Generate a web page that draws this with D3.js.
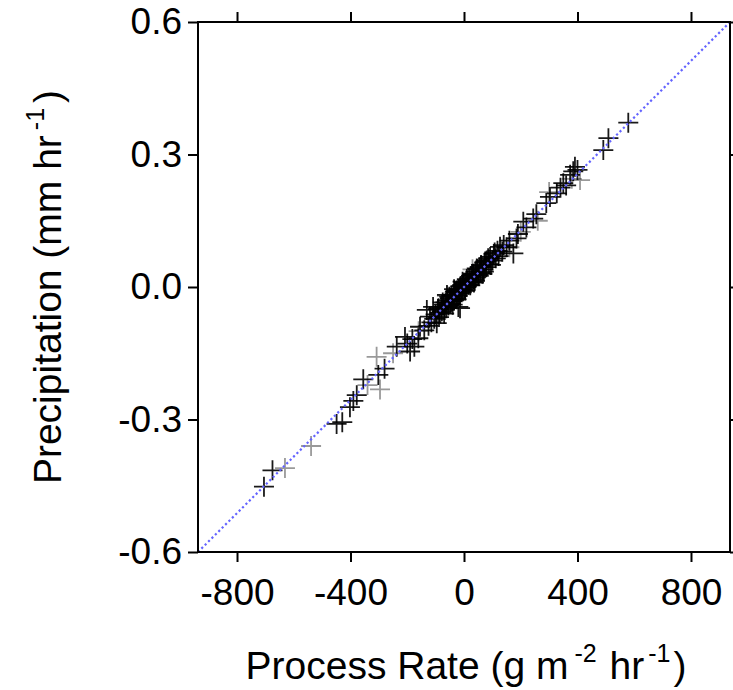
<!DOCTYPE html>
<html>
<head>
<meta charset="utf-8">
<script src="https://cdn.jsdelivr.net/npm/d3@7"></script>
<style>
  html, body { margin: 0; padding: 0; background: #fff; }
  svg { display: block; }
  text { font-family: "Liberation Sans", Arial, sans-serif; fill: #000; }
</style>
</head>
<body>
<svg id="chart" width="733" height="690"></svg>
<script>
// ---- data ----
const xTicks = [-800, -400, 0, 400, 800];
const yTicks = [-0.6, -0.3, 0.0, 0.3, 0.6];
const xTickLabels = ["-800", "-400", "0", "400", "800"];
const yTickLabels = ["-0.6", "-0.3", "0.0", "0.3", "0.6"];
const xDomain = [-937.5, 937.5];
const yDomain = [-0.6, 0.6];
const oneToOne = [[-937.5, -0.6], [937.5, 0.6]];

// black markers: process rate (g m-2 hr-1)
const blackRate = [
  -705, -675, -449, -429, -402, -390, -378, -355, -302, -280,
  -237, -208, -200, -190, -182, -175, -161, -155, -140, -131,
  -120, -115, -109, -100, -96, -92, -88, -85, -80, -78,
  -72, -70, -65, -62, -58, -55, -50, -48, -45, -42,
  -38, -35, -30, -28, -25, -22, -20, -18, -15, -14,
  -12, -10, -6, -4, 0, 2, 6, 8, 12, 15,
  18, 20, 25, 28, 32, 35, 40, 42, 48, 50,
  55, 58, 62, 68, 72, 78, 80, 88, 92, 100,
  105, 112, 118, 127, 135, 140, 150, 160, 174, 185,
  190, 209, 220, 244, 255, 290, 303, 327, 340, 350,
  360, 374, 385, 391, 400, 491, 509, 579,
  -125, -105, -90, -75, -68, -52, -40, -32, -26, -8,
  -2, 4, 10, 22, 30, 38, 45, 52, 60, 65,
  75, 85, 95, 108, 122, -60, -35, -5, 35, 70
];
// black markers: precipitation (mm hr-1)
const blackPrecip = [
  -0.452, -0.415, -0.310, -0.306, -0.272, -0.258, -0.245, -0.209, -0.199, -0.185,
  -0.135, -0.113, -0.128, -0.146, -0.118, -0.135, -0.116, -0.090, -0.098, -0.052,
  -0.067, -0.080, -0.045, -0.062, -0.082, -0.050, -0.068, -0.058, -0.045, -0.055,
  -0.040, -0.060, -0.035, -0.048, -0.030, -0.042, -0.025, -0.038, -0.020, -0.032,
  -0.018, -0.030, -0.012, -0.025, -0.008, -0.020, -0.045, -0.005, -0.015, -0.048,
  0.002, -0.010, 0.005, -0.006, 0.008, -0.002, 0.010, 0.000, 0.015, 0.005,
  0.020, 0.010, 0.025, 0.012, 0.030, 0.018, 0.035, 0.022, 0.040, 0.028,
  0.045, 0.032, 0.048, 0.040, 0.055, 0.045, 0.060, 0.052, 0.068, 0.060,
  0.075, 0.065, 0.082, 0.091, 0.080, 0.095, 0.090, 0.105, 0.076, 0.110,
  0.120, 0.148, 0.135, 0.155, 0.165, 0.190, 0.204, 0.212, 0.225, 0.235,
  0.230, 0.254, 0.262, 0.272, 0.265, 0.310, 0.337, 0.372,
  -0.088, -0.072, -0.048, -0.035, -0.052, -0.022, -0.040, -0.010, -0.028, -0.012,
  0.005, -0.008, 0.018, 0.004, 0.028, 0.014, 0.042, 0.025, 0.050, 0.030,
  0.058, 0.065, 0.050, 0.078, 0.070, -0.018, -0.005, 0.012, 0.010, 0.035
];

// grey (lighter) markers
const greyRate = [
  -631, -539, -340, -296, -308, -250, -160, -60, 30, 160,
  200, 260, 300, 380, 409
];
const greyPrecip = [
  -0.410, -0.360, -0.222, -0.232, -0.158, -0.150, -0.100, -0.020, 0.040, 0.090,
  0.125, 0.150, 0.215, 0.245, 0.242
];

// ---- layout ----
const svg = d3.select("#chart");
const mLeft = 198, mRight = 730, mTop = 22, mBottom = 552;

const x = d3.scaleLinear().domain(xDomain).range([mLeft, mRight]);
const y = d3.scaleLinear().domain(yDomain).range([mBottom, mTop]);

const plot = svg.append("g");

// markers
const plus = "M-10,0H10M0,-10V10";
function drawSeries(rates, precips, color, opacity) {
  plot.append("g").selectAll("path")
    .data(rates.map((r, i) => [r, precips[i]]))
    .join("path")
    .attr("d", plus)
    .attr("transform", d => `translate(${x(d[0])},${y(d[1])})`)
    .attr("fill", "none")
    .attr("stroke", color)
    .attr("stroke-opacity", opacity)
    .attr("stroke-width", 1.8);
}
drawSeries(greyRate, greyPrecip, "#000", 0.4);
drawSeries(blackRate, blackPrecip, "#000", 0.9);

// 1:1 line (dotted blue)
plot.append("path")
  .datum(oneToOne)
  .attr("d", d3.line().x(d => x(d[0])).y(d => y(d[1])))
  .attr("fill", "none")
  .attr("stroke", "#6464ff")
  .attr("stroke-width", 2.2)
  .attr("stroke-dasharray", "2.2,2.6");

// axes
const tickLen = 10;
function styleAxis(g) {
  g.select(".domain").remove();
  g.selectAll(".tick line").attr("stroke", "#000").attr("stroke-width", 2);
  g.selectAll(".tick text")
    .style("font-family", '"Liberation Sans", Arial, sans-serif')
    .style("font-size", "37px")
    .attr("fill", "#000");
}

svg.append("g")
  .attr("transform", `translate(0,${mBottom})`)
  .call(d3.axisBottom(x).tickValues(xTicks).tickSize(tickLen).tickPadding(17)
    .tickFormat((d, i) => xTickLabels[i]))
  .call(styleAxis);

svg.append("g")
  .attr("transform", `translate(0,${mTop})`)
  .call(d3.axisTop(x).tickValues(xTicks).tickSize(tickLen).tickFormat(""))
  .call(styleAxis);

svg.append("g")
  .attr("transform", `translate(${mLeft},0)`)
  .call(d3.axisLeft(y).tickValues(yTicks).tickSize(tickLen).tickPadding(6)
    .tickFormat((d, i) => yTickLabels[i]))
  .call(styleAxis);

svg.append("g")
  .attr("transform", `translate(${mRight},0)`)
  .call(d3.axisRight(y).tickValues(yTicks).tickSize(tickLen).tickFormat(""))
  .call(styleAxis);

// frame
svg.append("rect")
  .attr("x", mLeft).attr("y", mTop)
  .attr("width", mRight - mLeft).attr("height", mBottom - mTop)
  .attr("fill", "none").attr("stroke", "#000").attr("stroke-width", 2);

// x title
const xt = svg.append("text")
  .attr("x", 466).attr("y", 679)
  .attr("text-anchor", "middle")
  .style("font-size", "39px");
xt.append("tspan").text("Process Rate (g m");
xt.append("tspan").attr("dy", -17).attr("dx", 6).style("font-size", "25px").text("-2");
xt.append("tspan").attr("dy", 17).attr("dx", 2).text(" hr");
xt.append("tspan").attr("dy", -17).attr("dx", 4).style("font-size", "25px").text("-1");
xt.append("tspan").attr("dy", 17).attr("dx", 3).text(")");

// y title
const yt = svg.append("text")
  .attr("transform", `translate(61,${(mTop + mBottom) / 2}) rotate(-90)`)
  .attr("text-anchor", "middle")
  .style("font-size", "39px");
yt.append("tspan").text("Precipitation (mm hr");
yt.append("tspan").attr("dy", -17).attr("dx", 5).style("font-size", "25px").text("-1");
yt.append("tspan").attr("dy", 17).attr("dx", 5).text(")");
</script>
</body>
</html>
